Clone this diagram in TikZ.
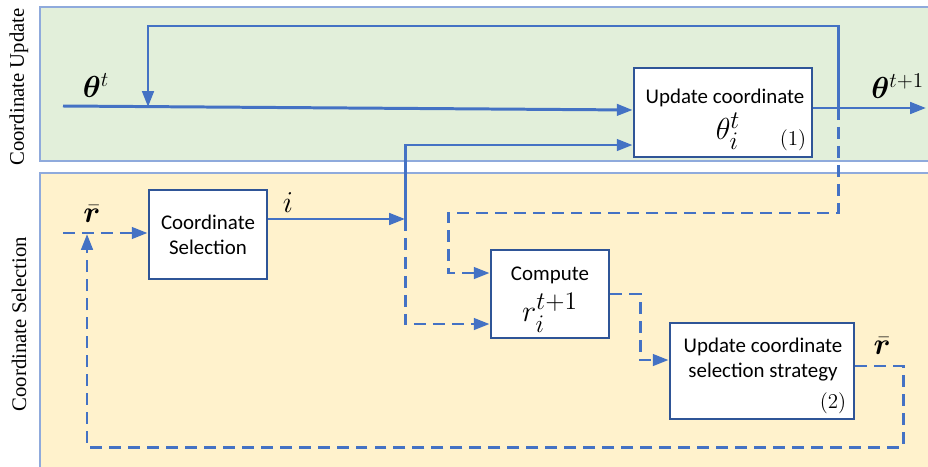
\documentclass[tikz,border=0pt]{standalone}
\usepackage{amsmath}
\usepackage{bm}
\usepackage{fontspec}
\setmainfont{Liberation Serif}
\newfontfamily\boxfont{Carlito}
\usetikzlibrary{arrows.meta,calc}

\definecolor{lineblue}{HTML}{4472C4}
\definecolor{boxblue}{HTML}{2F5597}
\definecolor{bandedge}{HTML}{8FAADC}
\definecolor{greenband}{HTML}{E2EFDA}
\definecolor{yellowband}{HTML}{FFF2CC}

\tikzset{
  blk/.style={draw=boxblue,line width=1.6pt,fill=white,inner sep=0pt},
  boxtxt/.style={font=\boxfont\fontsize{11.9}{14.2}\selectfont,align=center},
  boxmath/.style={font=\fontsize{19}{22}\selectfont,inner sep=0pt},
  flow/.style={draw=lineblue,line width=1.7pt},
  dsh/.style={dash pattern=on 6.8pt off 4pt},
  tip/.style={-{Triangle[length=9pt,width=6.5pt]}},
  sidetxt/.style={rotate=90,font=\fontsize{11.8}{14}\selectfont},
  lbl/.style={font=\fontsize{18.5}{22}\selectfont,inner sep=0pt},
  num/.style={font=\fontsize{12}{14}\selectfont,inner sep=0pt},
}

\begin{document}
\begin{tikzpicture}[x=0.02cm,y=-0.02cm]
	\useasboundingbox (0,0) rectangle (928,466);
	% 两个区域
	\filldraw[fill=greenband,draw=bandedge,line width=0.6pt] (40,7) rectangle (940,161);
	\filldraw[fill=yellowband,draw=bandedge,line width=0.6pt] (40,173) rectangle (940,480);
	\node[sidetxt] (sideU) at (19,87) {Coordinate Update};
	\node[sidetxt] (sideS) at (19,324) {Coordinate Selection};

	% 方框
	\node[blk,minimum width=3.56cm,minimum height=1.78cm] (upd) at (723,112.5) {};
	\node[blk,boxtxt,minimum width=2.36cm,minimum height=1.78cm] (sel) at (208,234.5) {Coordinate\\Selection};
	\node[blk,minimum width=2.36cm,minimum height=1.76cm] (cmp) at (550,294) {};
	\node[blk,minimum width=3.68cm,minimum height=1.92cm] (stg) at (762,371) {};

	% 方框里的文字
	\node[boxtxt] (updA) at (725,98) {Update coordinate};
	\node[boxmath] (updB) at (728,131) {$\theta_i^t$};
	\node[num] (updC) at (793,140) {$(1)$};
	\node[boxtxt] (cmpA) at (550,275) {Compute};
	\node[boxmath] (cmpB) at (550,313) {$r_i^{t+1}$};
	\node[boxtxt] (stgA) at (763,360) {Update coordinate\\selection strategy};
	\node[num] (stgB) at (833,403) {$(2)$};

	% 线上的标注
	\node[lbl] (lth) at (96,86) {$\bm{\theta}^t$};
	\node[lbl,anchor=west] (lthn) at (871,86) {$\bm{\theta}^{t+1}$};
	\node[lbl] (li) at (288,203) {$i$};
	\node[lbl] (lr) at (92,214) {$\bar{\bm{r}}$};
	\node[lbl] (lrn) at (882,346) {$\bar{\bm{r}}$};

	% 端点和拐点
	\coordinate (thin) at (63,106);
	\coordinate (rin) at (63,233);
	\coordinate (fb) at (838,108);
	\coordinate (meet) at (148,107);
	\coordinate (split) at (405,219);
	\coordinate (out) at (926,108);

	% 实线
	\draw[flow,tip] (thin) -- (upd.west |- 0,110);
	\draw[flow,tip] (upd.east |- fb) -- (out);
	\draw[flow,tip] (fb) |- (meet |- 0,26) -- (meet);
	\draw[flow,tip] (sel.east |- split) -- (split);
	\draw[flow,tip] (split) |- (upd.west |- 0,145);

	% 虚线
	\draw[flow,dsh,tip] (fb) -- (838,213) -| (448,273) -- (cmp.west |- 0,273);
	\draw[flow,dsh,tip] (split) |- (cmp.west |- 0,324);
	\draw[flow,dsh,tip] (cmp.east |- 0,294) -| (640,360) -- (stg.west |- 0,360);
	\draw[flow,dsh,tip] (stg.east |- 0,366) -| (903,447) -| (87,234);
	\draw[flow,dsh,tip] (rin) -- (sel.west |- rin);
\end{tikzpicture}
\end{document}
